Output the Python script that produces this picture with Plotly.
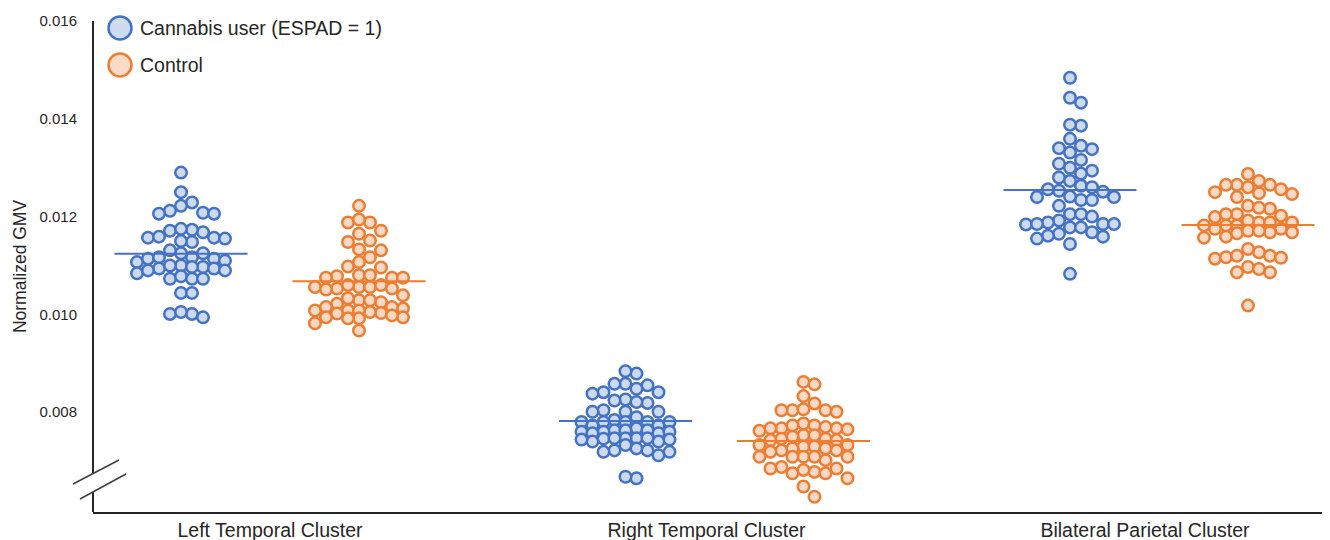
import plotly.graph_objects as go

# ---------------- data ----------------
clusters = ["Left Temporal Cluster", "Right Temporal Cluster", "Bilateral Parietal Cluster"]
groups = ["Cannabis user (ESPAD = 1)", "Control"]

left_user = [0.01290, 0.01250, 0.01229, 0.01212, 0.01208, 0.01206, 0.01222, 0.01206,
             0.01148, 0.01157, 0.01157, 0.01168, 0.01173, 0.01171, 0.01175, 0.01155, 0.01159, 0.01150,
             0.01107, 0.01117, 0.01114, 0.01125, 0.01131, 0.01125, 0.01114, 0.01117, 0.01110,
             0.01084, 0.01094, 0.01090, 0.01097, 0.01100, 0.01100, 0.01094, 0.01097, 0.01090,
             0.01073, 0.01078, 0.01073, 0.01073,
             0.01044, 0.01044,
             0.01001, 0.00994, 0.01001, 0.01005]
left_ctrl = [0.01222, 0.01188, 0.01188, 0.01194, 0.01165, 0.01171, 0.01148, 0.01151, 0.01133, 0.01131,
             0.01117, 0.01098, 0.01107, 0.01096,
             0.01075, 0.01080, 0.01080, 0.01078, 0.01075, 0.01075, 0.01053, 0.01056, 0.01056, 0.01060,
             0.01051, 0.01056, 0.01060, 0.01053,
             0.01029, 0.01025, 0.01029, 0.01039, 0.01022, 0.01033,
             0.01012, 0.01008, 0.01015, 0.01003, 0.01008, 0.01005, 0.01008, 0.01002, 0.01015,
             0.00982, 0.00994, 0.00994, 0.00992, 0.00998, 0.00992,
             0.00967]
right_user = [0.00665, 0.00668, 0.00879, 0.00884,
              0.00855, 0.00858, 0.00858, 0.00841, 0.00838, 0.00841, 0.00848,
              0.00826, 0.00819, 0.00824, 0.00821,
              0.00801, 0.00804, 0.00801, 0.00801, 0.00790,
              0.00784, 0.00773, 0.00780, 0.00780, 0.00780, 0.00780, 0.00773, 0.00780, 0.00767,
              0.00763, 0.00757, 0.00760, 0.00760, 0.00763, 0.00760, 0.00763, 0.00757, 0.00746,
              0.00740, 0.00747, 0.00747, 0.00744, 0.00740, 0.00744, 0.00747, 0.00747,
              0.00722, 0.00719, 0.00726, 0.00712, 0.00733, 0.00719, 0.00722]
right_ctrl = [0.00862, 0.00857, 0.00833, 0.00818, 0.00804, 0.00801, 0.00804, 0.00804, 0.00806,
              0.00762, 0.00767, 0.00767, 0.00777, 0.00773, 0.00770, 0.00767, 0.00773, 0.00765,
              0.00733, 0.00743, 0.00746, 0.00753, 0.00743, 0.00753, 0.00746, 0.00750, 0.00733,
              0.00730, 0.00722, 0.00719, 0.00726, 0.00722, 0.00730, 0.00726,
              0.00702, 0.00709, 0.00709, 0.00709, 0.00709, 0.00709,
              0.00678, 0.00675, 0.00685, 0.00688, 0.00685, 0.00675, 0.00682,
              0.00665, 0.00648, 0.00627]
bil_user = [0.01484, 0.01433, 0.01443, 0.01386, 0.01388, 0.01359, 0.01338, 0.01331, 0.01340, 0.01345,
            0.01308, 0.01316, 0.01294, 0.01288, 0.01300,
            0.01280, 0.01273, 0.01263, 0.01256, 0.01260, 0.01253, 0.01251,
            0.01234, 0.01241, 0.01240, 0.01240, 0.01234,
            0.01222, 0.01205, 0.01205,
            0.01185, 0.01192, 0.01188, 0.01178, 0.01184, 0.01178, 0.01185, 0.01200, 0.01185,
            0.01165, 0.01161, 0.01155, 0.01144, 0.01159, 0.01168,
            0.01083]
bil_ctrl = [0.01287, 0.01265, 0.01260, 0.01265, 0.01273, 0.01256, 0.01265, 0.01248, 0.01250, 0.01246, 0.01240,
            0.01216, 0.01222, 0.01218, 0.01199, 0.01205, 0.01205, 0.01202,
            0.01175, 0.01182, 0.01182, 0.01188, 0.01188, 0.01192, 0.01188, 0.01182, 0.01175,
            0.01166, 0.01159, 0.01168, 0.01171, 0.01171, 0.01157, 0.01168,
            0.01114, 0.01127, 0.01134, 0.01117, 0.01120, 0.01120, 0.01116,
            0.01097, 0.01086, 0.01086, 0.01093,
            0.01018]

user_means = [0.01124, 0.00782, 0.012545]
ctrl_means = [0.01068, 0.00741, 0.01183]

tick_vals_y = [0.008, 0.010, 0.012, 0.014, 0.016]

# ---------------- styling / layout constants ----------------
BLUE = "#4472C4"
BLUE_FILL = "#CCD9EF"
ORANGE = "#ED7D31"
ORANGE_FILL = "#F9D9C5"
TEXT = "#262626"
AXIS = "#262626"

PAGE_OFF = 8                       # default body margin of the html page
W, H = 1330 - PAGE_OFF, 540 - PAGE_OFF
ML, MR, MT, MB = 93 - PAGE_OFF, 0, 21 - PAGE_OFF, 28
PW, PH = W - ML - MR, H - MT - MB
AX_LEFT_PX = 93                    # screen position of the y axis
AX_BOTTOM_PX = 512                 # screen position of the x axis
Y0, Y1 = 0.00596, 0.016
PX_PER_X = 444.5                   # pixels per cluster step
X0 = -177.0 / PX_PER_X
X1 = X0 + PW / PX_PER_X
YPX = PH / (Y1 - Y0)               # pixels per unit of y
GROUP_OFF = 89.0 / PX_PER_X
COL_PX = 11.0
MIN_DY = 12.0
MAX_COL = 4
LABEL_SHIFT_PX = [0, -8, -14]


def swarm(vals):
    """Column-based beeswarm limited to +-MAX_COL columns; returns x offsets (axis units)."""
    order = sorted(range(len(vals)), key=lambda i: -vals[i])
    cand = [0]
    for k in range(1, MAX_COL + 1):
        cand += [k, -k]
    placed = {}
    offs = [0.0] * len(vals)
    for i in order:
        y = vals[i] * YPX
        best_c, best_d = None, -1.0
        chosen = None
        for c in cand:
            pts = placed.get(c, [])
            d = min([abs(y - yy) for yy in pts], default=1e9)
            if d >= MIN_DY:
                chosen = c
                break
            if d > best_d + 0.5:
                best_c, best_d = c, d
        if chosen is None:
            chosen = best_c
        placed.setdefault(chosen, []).append(y)
        offs[i] = chosen * COL_PX / PX_PER_X
    return offs


user_sets = [left_user, right_user, bil_user]
ctrl_sets = [left_ctrl, right_ctrl, bil_ctrl]

fig = go.Figure()


def add_group(vals_list, side, line_col, fill_col, name):
    xs, ys = [], []
    for ci, vals in enumerate(vals_list):
        offs = swarm(vals)
        for v, o in zip(vals, offs):
            xs.append(ci + side * GROUP_OFF + o)
            ys.append(v)
    fig.add_trace(go.Scatter(
        x=xs, y=ys, mode="markers", name=name, showlegend=False,
        marker=dict(size=11.5, color=fill_col, line=dict(color=line_col, width=2.5)),
        hoverinfo="y"))


add_group(user_sets, -1, BLUE, BLUE_FILL, groups[0])
add_group(ctrl_sets, +1, ORANGE, ORANGE_FILL, groups[1])

HALF = 66.5 / PX_PER_X
for ci in range(len(clusters)):
    for side, means, col in [(-1, user_means, BLUE), (+1, ctrl_means, ORANGE)]:
        cx = ci + side * GROUP_OFF
        fig.add_trace(go.Scatter(x=[cx - HALF, cx + HALF], y=[means[ci], means[ci]],
                                 mode="lines", line=dict(color=col, width=2),
                                 showlegend=False, hoverinfo="skip"))


def py(px):
    return (AX_BOTTOM_PX - px) / PH


def pxx(px):
    return (px - AX_LEFT_PX) / PW


shapes = []
# y axis line with a break
shapes.append(dict(type="line", xref="paper", yref="paper", x0=0, x1=0, y0=py(473), y1=1.0,
                   line=dict(color=AXIS, width=2)))
shapes.append(dict(type="line", xref="paper", yref="paper", x0=0, x1=0, y0=0, y1=py(492),
                   line=dict(color=AXIS, width=2)))
shapes.append(dict(type="line", xref="paper", yref="paper", x0=pxx(73), x1=pxx(119),
                   y0=py(484), y1=py(460), line=dict(color="#404040", width=1.5)))
shapes.append(dict(type="line", xref="paper", yref="paper", x0=pxx(80), x1=pxx(126),
                   y0=py(499), y1=py(474), line=dict(color="#404040", width=1.5)))
# legend symbols
for cy, lc, fc in [(28, BLUE, "#CFDBF0"), (65, ORANGE, "#FADBC9")]:
    shapes.append(dict(type="circle", xref="paper", yref="paper",
                       xsizemode="pixel", ysizemode="pixel",
                       xanchor=pxx(120), yanchor=py(cy),
                       x0=-11.5, x1=11.5, y0=-11.5, y1=11.5,
                       fillcolor=fc, line=dict(color=lc, width=2.5)))

annotations = [
    dict(text=groups[0], xref="paper", yref="paper", x=pxx(138), y=py(28), xanchor="left",
         yanchor="middle", showarrow=False, font=dict(size=19.5, color=TEXT)),
    dict(text=groups[1], xref="paper", yref="paper", x=pxx(138), y=py(65), xanchor="left",
         yanchor="middle", showarrow=False, font=dict(size=19.5, color=TEXT)),
]

fig.update_layout(
    width=W, height=H,
    margin=dict(l=ML, r=MR, t=MT, b=MB, pad=0),
    paper_bgcolor="white", plot_bgcolor="white",
    font=dict(family="Liberation Sans, Arial, sans-serif", color=TEXT),
    shapes=shapes, annotations=annotations, showlegend=False,
    xaxis=dict(range=[X0, X1],
               tickvals=[i + s / PX_PER_X for i, s in enumerate(LABEL_SHIFT_PX)],
               ticktext=clusters,
               showgrid=False, zeroline=False, showline=True, linecolor=AXIS, linewidth=2,
               ticks="", tickfont=dict(size=19.5, color=TEXT), fixedrange=True),
    yaxis=dict(range=[Y0, Y1], tickvals=tick_vals_y, tickformat=".3f",
               showgrid=False, zeroline=False, showline=False, ticks="",
               ticklabelstandoff=15, tickfont=dict(size=15, color=TEXT),
               title=dict(text="Normalized GMV", font=dict(size=17.5, color=TEXT), standoff=8),
               fixedrange=True),
)

fig.write_html("out.html")
